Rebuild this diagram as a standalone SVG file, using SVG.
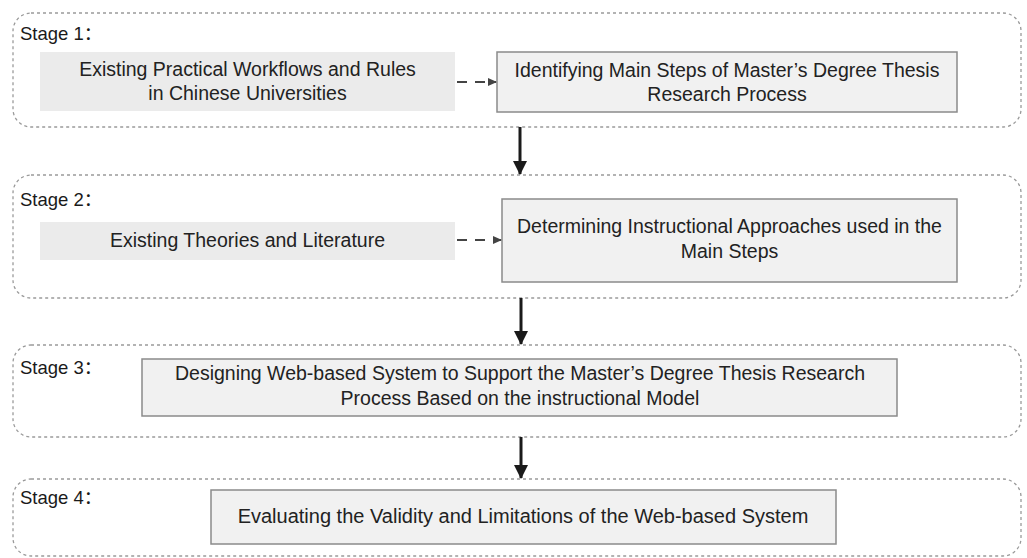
<svg xmlns="http://www.w3.org/2000/svg" width="1027" height="558" viewBox="0 0 1027 558">
<style>
text{font-family:"Liberation Sans","Noto Sans CJK SC",sans-serif;fill:#222;}
.t{font-size:19.5px;text-anchor:middle;}
.lbl{font-size:18.5px;fill:#1a1a1a;}
.stage{fill:#fff;stroke:#9a9a9a;stroke-width:1.3;stroke-dasharray:3 3;}
.src{fill:#ebebeb;stroke:none;}
.box{fill:#f1f1f1;stroke:#8a8a8a;stroke-width:1.5;}
.dash{stroke:#444;stroke-width:1.8;stroke-dasharray:10 8;fill:none;}
.down{stroke:#1a1a1a;stroke-width:3;fill:none;}
</style>
<defs>
<marker id="ah" markerWidth="10" markerHeight="10" refX="8" refY="5" orient="auto" markerUnits="userSpaceOnUse"><path d="M0,1 L9,5 L0,9 Z" fill="#444"/></marker>
<marker id="dh" markerWidth="16" markerHeight="16" refX="13" refY="8" orient="auto" markerUnits="userSpaceOnUse"><path d="M0,1 L14,8 L0,15 Z" fill="#1a1a1a"/></marker>
</defs>
<g id="stage1">
<rect class="stage" x="13" y="13" width="1008" height="114" rx="18"/>
<text class="lbl" x="20" y="40">Stage 1：</text>
</g>
<g id="stage2">
<rect class="stage" x="13" y="175" width="1008" height="123" rx="18"/>
<text class="lbl" x="20" y="206">Stage 2：</text>
</g>
<g id="stage3">
<rect class="stage" x="13" y="345" width="1008" height="92" rx="18"/>
<text class="lbl" x="20" y="374">Stage 3：</text>
</g>
<g id="stage4">
<rect class="stage" x="13" y="479" width="1008" height="77" rx="18"/>
<text class="lbl" x="20" y="504">Stage 4：</text>
</g>
<g id="n1">
<rect class="src" x="40" y="52" width="415" height="59"/>
<text class="t" x="247.5" y="76">Existing Practical Workflows and Rules</text>
<text class="t" x="247.5" y="100">in Chinese Universities</text>
</g>
<g id="n2">
<rect class="box" x="497" y="52" width="460" height="60"/>
<text class="t" x="727" y="77">Identifying Main Steps of Master’s Degree Thesis</text>
<text class="t" x="727" y="101">Research Process</text>
</g>
<g id="n3">
<rect class="src" x="40" y="222" width="415" height="38"/>
<text class="t" x="247.5" y="247">Existing Theories and Literature</text>
</g>
<g id="n4">
<rect class="box" x="502" y="199" width="455" height="83"/>
<text class="t" x="729.5" y="233">Determining Instructional Approaches used in the</text>
<text class="t" x="729.5" y="258">Main Steps</text>
</g>
<g id="n5">
<rect class="box" x="142" y="359" width="755" height="57"/>
<text class="t" x="520" y="380">Designing Web-based System to Support the Master’s Degree Thesis Research</text>
<text class="t" x="520" y="405">Process Based on the instructional Model</text>
</g>
<g id="n6">
<rect class="box" x="211" y="490" width="625" height="54"/>
<text class="t" x="523" y="523" style="font-size:20px">Evaluating the Validity and Limitations of the Web-based System</text>
</g>
<g id="connectors">
<line class="dash" x1="457" y1="82" x2="496" y2="82" marker-end="url(#ah)"/>
<line class="dash" x1="457" y1="240" x2="501" y2="240" marker-end="url(#ah)"/>
<line class="down" x1="520" y1="127" x2="520" y2="174" marker-end="url(#dh)"/>
<line class="down" x1="521" y1="298" x2="521" y2="344" marker-end="url(#dh)"/>
<line class="down" x1="521" y1="437" x2="521" y2="478" marker-end="url(#dh)"/>
</g>
</svg>
